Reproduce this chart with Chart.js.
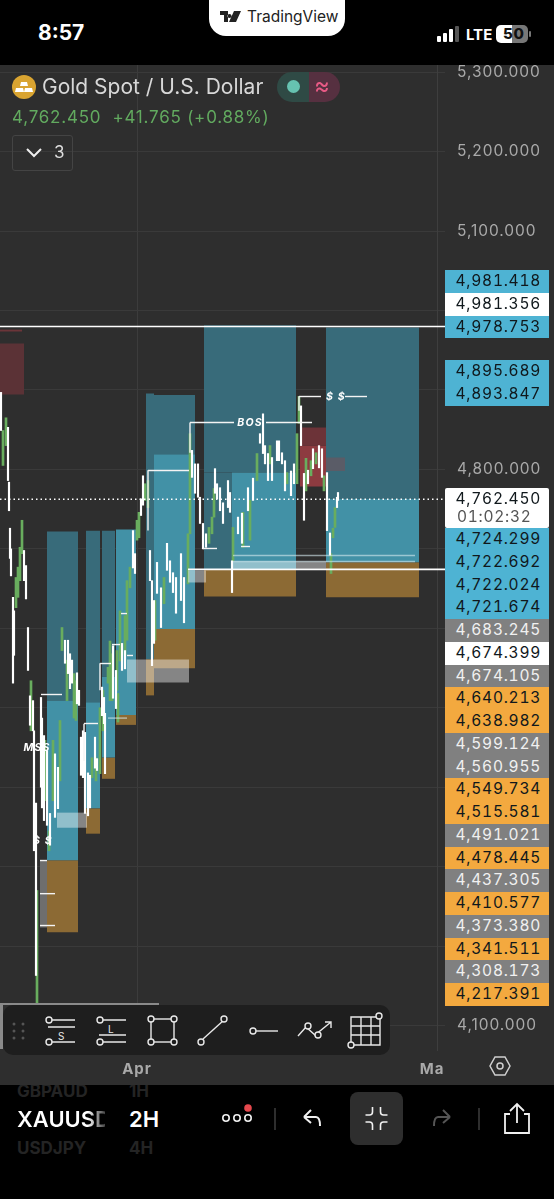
<!DOCTYPE html>
<html>
<head>
<meta charset="utf-8">
<script src="https://cdn.jsdelivr.net/npm/chart.js@4"></script>
<style>
html,body{margin:0;padding:0;background:#000;width:554px;height:1199px;overflow:hidden;font-family:Inter,"Noto Sans",sans-serif}
div,span{position:absolute;white-space:nowrap}
#pane{left:0;top:65px;width:554px;height:1020px;background:#2e2e2e}
#pane canvas{position:absolute;left:0;top:0}
.tag{left:445px;width:104px;height:22.75px;line-height:22.75px;font-size:15.5px;letter-spacing:.75px;font-variant-numeric:tabular-nums;color:#10181c}
.tag span{right:8px;top:0}
.blue{background:#4eb3d3}.white{background:#fff}.gray{background:#808080;color:#f0f0f0}.orange{background:#f3a93f}
svg{position:absolute;overflow:visible}
</style>
</head>
<body>
<!-- symbols scrolling behind the pane -->
<div style="left:17px;top:1081px;font-size:17px;font-weight:700;color:#242424;width:88px;overflow:hidden">GBPAUD</div>
<div style="left:129px;top:1081px;font-size:17px;font-weight:700;color:#242424">1H</div>

<div id="pane"><canvas id="chart" width="554" height="1020"></canvas></div>

<!-- status bar -->
<div style="left:38px;top:20px;font-size:21px;font-weight:700;color:#fff">8:57</div>
<div style="left:209px;top:0;width:136px;height:36px;background:#fff;border-radius:0 0 17px 17px"></div>
<svg style="left:220px;top:10px" width="22" height="13"><path d="M0 1h8v11H4V5H0zM9 12l5-11h7l-5 11z M9.5 4a2 2 0 1 0 .01 0" fill="#222"/></svg>
<div style="left:247px;top:7px;font-size:15.5px;color:#222">TradingView</div>
<svg style="left:437px;top:26px" width="24" height="16"><rect x="0" y="10" width="4" height="6" rx="1" fill="#fff"/><rect x="6" y="7" width="4" height="9" rx="1" fill="#fff"/><rect x="12" y="3" width="4" height="13" rx="1" fill="#fff"/><rect x="18" y="0" width="4" height="16" rx="1" fill="#555"/></svg>
<div style="left:466px;top:25px;font-size:15px;font-weight:700;color:#fff">LTE</div>
<div style="left:496px;top:25px;width:32px;height:18px;border-radius:5px;background:linear-gradient(90deg,#fff 50%,#777 50%)"></div>
<div style="left:529px;top:31px;width:2px;height:6px;border-radius:1px;background:#777"></div>
<div style="left:503px;top:25px;font-size:15px;font-weight:800;letter-spacing:.6px;color:#111;line-height:18px">50</div>

<!-- legend -->
<svg style="left:12px;top:75px" width="24" height="24"><circle cx="12" cy="12" r="12" fill="#d9a431"/><path d="M9 7h6l1 4H8zM4 13h7l1 4H3zM13 13h7l1 4h-9z" fill="#fff"/></svg>
<div style="left:42px;top:74px;font-size:21px;color:#d8d8d8">Gold Spot / U.S. Dollar</div>
<div style="left:277px;top:72px;width:32px;height:30px;background:#2f4a45;border-radius:15px 0 0 15px"></div>
<div style="left:309px;top:72px;width:31px;height:30px;background:#563040;border-radius:0 15px 15px 0"></div>
<div style="left:287px;top:80px;width:13px;height:13px;border-radius:7px;background:#66c3b1"></div>
<div style="left:314px;top:71px;font-size:24px;color:#e85a85">≈</div>
<div style="left:12px;top:107px;font-size:17px;letter-spacing:.78px;color:#62aa5f">4,762.450&nbsp; +41.765 (+0.88%)</div>
<div style="left:12px;top:135px;width:59px;height:34px;border:1px solid #444;border-radius:3px"></div>
<svg style="left:26px;top:148px" width="16" height="10"><path d="M1 1l7 7 7-7" fill="none" stroke="#eee" stroke-width="2"/></svg>
<div style="left:54px;top:142px;font-size:17px;color:#ddd">3</div>

<div id="tags"></div>

<!-- drawing toolbar -->
<div style="left:0;top:1003px;width:159px;height:2px;background:#8a8a8a"></div>
<div style="left:0;top:1003px;width:3px;height:46px;background:#8a8a8a"></div>
<div style="left:3px;top:1005px;width:387px;height:50px;background:#1e1e1e;border-radius:10px"></div>
<svg style="left:0;top:1000px" width="400" height="60" fill="none" stroke="#e8e8e8" stroke-width="1.4">
  <g fill="#555" stroke="none"><circle cx="14" cy="24" r="1.5"/><circle cx="23" cy="24" r="1.5"/><circle cx="14" cy="31" r="1.5"/><circle cx="23" cy="31" r="1.5"/><circle cx="14" cy="38" r="1.5"/><circle cx="23" cy="38" r="1.5"/></g>
  <circle cx="49" cy="20" r="3"/><path d="M52 20h23M48 27h27M52 42h23"/><circle cx="49" cy="42" r="3"/>
  <circle cx="100" cy="20" r="3"/><path d="M103 20h23M99 35h27M103 42h23"/><circle cx="100" cy="42" r="3"/>
  <rect x="151" y="19" width="23" height="23"/><g fill="#1e1e1e"><circle cx="151" cy="19" r="3"/><circle cx="174" cy="19" r="3"/><circle cx="151" cy="42" r="3"/><circle cx="174" cy="42" r="3"/></g>
  <path d="M203 39l21-19"/><g fill="#1e1e1e"><circle cx="201" cy="42" r="3"/><circle cx="224" cy="19" r="3"/></g>
  <circle cx="253" cy="31" r="3"/><path d="M256 31h22"/>
  <path d="M298 36l8-9 9 8 16-13M325 22h6v6"/><g fill="#1e1e1e"><circle cx="308" cy="26" r="3"/><circle cx="318" cy="35" r="3"/></g>
  <path d="M351 17h29v28h-29zM351 26h29M351 35h29M361 17v28M371 17v28"/><g fill="#1e1e1e"><circle cx="379" cy="16" r="3"/><circle cx="351" cy="45" r="3"/></g>
</svg>
<div style="left:58px;top:1030px;font-size:10px;color:#e8e8e8">S</div>
<div style="left:108px;top:1023px;font-size:10px;color:#e8e8e8">L</div>
<svg style="left:489px;top:1056px" width="22" height="20" fill="none" stroke="#cfcfcf" stroke-width="1.5"><path d="M6 1h10l5 9-5 9H6L1 10z"/><circle cx="11" cy="10" r="3"/></svg>

<!-- bottom bar -->
<div style="left:17px;top:1106px;font-size:22px;font-weight:600;width:88px;overflow:hidden;background:linear-gradient(90deg,#fff 80%,#444 100%);-webkit-background-clip:text;color:transparent">XAUUSD</div>
<div style="left:129px;top:1106px;font-size:22px;font-weight:600;color:#fff">2H</div>
<div style="left:17px;top:1138px;font-size:17px;font-weight:700;color:#242424;width:88px;overflow:hidden">USDJPY</div>
<div style="left:129px;top:1138px;font-size:17px;font-weight:700;color:#242424">4H</div>
<div style="left:350px;top:1092px;width:53px;height:53px;background:#2e2e2e;border-radius:8px"></div>
<svg style="left:0;top:1090px" width="554" height="60" fill="none" stroke="#f0f0f0" stroke-width="1.6">
  <circle cx="226" cy="28" r="3.2"/><circle cx="237" cy="28" r="3.2"/><circle cx="248" cy="28" r="3.2"/>
  <circle cx="248" cy="18" r="3.8" fill="#e5484d" stroke="none"/>
  <path d="M275 18v22M479 18v22" stroke="#3a3a3a"/>
  <path d="M304 27l7-7M304 27l7 6M304 27h12c3 0 4 3 4 9" stroke-width="2"/>
  <path d="M372.5 17v5q0 3-3 3h-4M380.5 17v5q0 3 3 3h4M372.5 40v-5q0-3-3-3h-4M380.5 40v-5q0-3 3-3h4"/>
  <path d="M450 27l-7-7M450 27l-7 6M450 27h-12c-3 0-4 3-4 9" stroke="#555" stroke-width="2"/>
  <path d="M517 33V15M510 21l7-7 7 7M510 24h-5v19h24V24h-5" stroke-width="1.8"/>
</svg>

<script>
// price axis
const gridPrices = [5300,5200,5100,5000,4900,4800,4700,4600,4500,4400,4300,4200,4100];
const shownPrices = [5300,5200,5100,4800,4100];
// days counted from Apr 1
const monthDays = [0,29.5];
const monthLabels = ["Apr","Ma"];

// candles, white ones and green ones
const whiteDays = [-13.6,-12.9,-12.8,-12.7,-12.6,-12.4,-12.3,-11.3,-11.1,-10.9,-10.7,-10.4,-10.3,-10.1,-9.6,-9.5,-9.3,-9,-8.7,-8.2,-7.9,-7.2,-6.9,-6.7,-6.5,-6,-5.8,-5.6,-5.4,-5.2,-4.9,-4.7,-4.2,-4,-3.5,-3.3,-3.2,-2.4,-2.1,-1.5,-1.2,-0.4,-0.2,0.4,0.6,1.3,1.5,1.7,2,2.4,3,3.3,3.6,3.9,4.4,4.7,5.5,5.8,6.1,6.3,6.6,6.9,7.8,8,8.3,8.6,9.1,9.3,9.5,10.1,10.5,11.1,11.6,12.3,12.6,12.8,13.1,13.5,14,14.2,14.5,14.8,15.4,15.7,16.4,16.7,17.1,17.6,18.2,18.5,19,19.3,20,20.1];
const whiteHigh = [4897,4853,4784,4726,4700,4639,4622,4698,4679,4601,4515,4509,4471,4380,4513,4487,4465,4446,4367,4442,4425,4585,4585,4568,4560,4544,4522,4463,4471,4469,4418,4415,4463,4436,4526,4513,4493,4578,4547,4581,4572,4723,4694,4763,4792,4698,4660,4635,4683,4651,4707,4685,4670,4664,4694,4664,4824,4807,4807,4765,4732,4719,4801,4782,4777,4758,4786,4771,4685,4740,4745,4777,4789,4845,4870,4830,4820,4815,4836,4836,4821,4811,4798,4807,4880,4795,4799,4826,4830,4826,4796,4720,4765,4771];
const whiteLow = [4849,4786,4748,4688,4666,4531,4566,4660,4637,4547,4478,4471,4320,4163,4400,4374,4358,4352,4327,4362,4373,4556,4543,4524,4531,4505,4503,4415,4412,4367,4364,4374,4424,4421,4490,4480,4417,4512,4499,4547,4549,4676,4669,4742,4755,4660,4553,4581,4644,4601,4673,4658,4645,4619,4635,4607,4790,4770,4765,4732,4700,4702,4770,4763,4748,4732,4752,4746,4645,4719,4707,4748,4761,4833,4820,4807,4786,4786,4811,4811,4807,4773,4767,4782,4830,4736,4782,4801,4802,4790,4723,4692,4752,4761];
const greenDays = [-13.4,-13.1,-12.1,-11.9,-11.7,-11.5,-10.6,-10,-9.2,-8.8,-8.4,-7.7,-7.5,-7,-6.3,-6.1,-4.5,-4.1,-3.7,-3.4,-2.9,-2.7,-2.5,-2,-1.9,-1.7,-1.2,-1,-0.7,0,0.2,0.8,1.1,1.8,2.7,5.1,5.3,7.2,7.5,7.7,9.6,10.6,11.3,12,13.3,15,16,16.2,16.9,17.4,17.9,18.7,19.4,19.6,19.8];
const greenHigh = [4849,4865,4664,4677,4702,4736,4534,4270,4459,4345,4459,4484,4601,4560,4543,4534,4437,4437,4500,4522,4551,4584,4568,4572,4518,4622,4616,4660,4677,4736,4746,4782,4786,4635,4664,4719,4845,4727,4740,4776,4727,4746,4761,4820,4830,4796,4845,4892,4814,4811,4821,4792,4694,4726,4752];
const greenLow = [4805,4830,4626,4639,4660,4694,4471,4125,4383,4320,4383,4408,4572,4509,4487,4484,4412,4408,4417,4471,4531,4509,4509,4522,4482,4559,4566,4585,4651,4711,4714,4761,4752,4585,4631,4656,4719,4707,4719,4740,4685,4702,4711,4786,4807,4782,4782,4858,4773,4792,4807,4773,4669,4714,4727];

// position zones: [from day, to day, upper price, lower price]
const targetZones = [[-9,-5.9,4722.024,4509],[-5.1,-3.7,4722.692,4507],[-3.5,-2.2,4722.692,4539],[0.9,1.7,4895.689,4560.955],[1.7,5.8,4893.847,4819],[6.7,15.9,4981.418,4796],[6.7,9.5,4796,4674.105],[18.9,28.2,4978.753,4763]];
const entryZones = [[-9,-5.9,4509,4308.173],[-5.1,-3.7,4507,4373.38],[-3.5,-2.2,4539,4437.305],[-2.1,-0.1,4724.299,4491.021],[1.7,5.8,4819,4599.124],[9.5,15.9,4796,4674.105],[18.9,28.2,4763,4683.245]];
const stopZones = [[-9,-5.9,4308.173,4217.391],[-5.1,-3.7,4373.38,4341.511],[-3.5,-2.2,4437.305,4410.577],[-2.1,-0.1,4491.021,4478.445],[0.9,1.7,4560.955,4515.581],[1.7,5.8,4599.124,4549.734],[6.7,15.9,4674.105,4640.213],[18.9,28.2,4683.245,4638.982]];
const redZones = [[-13.7,-11.3,4958.5,4894.3],[-13.7,-11.5,4976,4973.6],[16.3,18.9,4852.8,4830],[16.3,18.9,4830,4778.5],[18.9,20.8,4815,4798]];
const paleZones = [[-1,5.2,4560.7,4531.8],[5.1,6.9,4672.8,4657.7],[-8,-5,4368,4349],[9.6,18.9,4684,4675]];
const grayZones = [[-9.7,-9,4307.7,4223.4]];

// structure lines: [from day, to day, price]
const levelLines = [[5.3,9.7,4859.1],[12.9,17.5,4859.1],[16.2,18.4,4891.8],[20.8,23,4891.8],[1.1,5.2,4798.7],[6.6,8,4700.5],[10.4,11.3,4703],[-1.6,-1,4618.6],[-2.5,-1.7,4579.6],[-1,-0.4,4565.8],[-3.7,-2.6,4555.7],[-5.3,-3.9,4480.2],[-9.6,-7.5,4516.7],[-9.7,-9,4307.7],[-9.7,-8.2,4266],[-9.7,-8.2,4225.9]];
// vertical ticks of those lines: [day, upper price, lower price]
const levelStems = [[5.3,4859,4821],[1.1,4799,4723],[16.2,4892,4874],[-3.7,4556,4522],[-5.3,4480,4433]];
const drawnLevels = [[-13.7,30.8,4980],[5.1,30.8,4674.2]];
const thinLevels = [[9.6,27.8,4691.7],[9.6,27.8,4684],[-2.9,-1,4487]];
const lastPrice = 4762.45;

const noteTexts = ["BOS","$ $","MSS","$ $"];
const noteDays = [11.3,19.9,-10,-9.4];
const notePrices = [4859.1,4891.8,4450,4333];

// price tags on the right, stacked the way the app stacks them
const tagLabels = [["4,981.418","4,981.356","4,978.753"],["4,895.689","4,893.847"],["4,724.299","4,722.692","4,722.024","4,721.674","4,683.245","4,674.399","4,674.105","4,640.213","4,638.982","4,599.124","4,560.955","4,549.734","4,515.581","4,491.021","4,478.445","4,437.305","4,410.577","4,373.380","4,341.511","4,308.173","4,217.391"]];
const tagKinds = [["blue","white","blue"],["blue","blue"],["blue","blue","blue","blue","gray","white","gray","orange","orange","gray","gray","orange","orange","gray","orange","gray","orange","gray","orange","gray","orange"]];
const tagTops = [270,360,528];
const lastLabel = "4,762.450";
const countdown = "01:02:32";

// -------- TAGS --------
const tagsDiv = document.getElementById("tags");
tagLabels.forEach((group,g)=>{
  group.forEach((t,i)=>{
    const d = document.createElement("div");
    d.className = "tag " + tagKinds[g][i];
    d.style.top = (tagTops[g] + i*22.75) + "px";
    d.innerHTML = "<span>"+t+"</span>";
    tagsDiv.appendChild(d);
  });
});
const last = document.createElement("div");
last.className = "tag white";
last.style.cssText = "top:488px;height:40px;border-radius:2px";
last.innerHTML = `<span style="top:0;line-height:22px">${lastLabel}</span><span style="top:19px;line-height:20px;left:12px;right:auto;color:#555">${countdown}</span>`;
tagsDiv.appendChild(last);

// -------- CHART --------
function zoneSets(zones,color,order){
  return zones.map(z=>({
    type:"line",
    data:[{x:z[0],y:z[2]},{x:z[1],y:z[2]}],
    fill:{value:z[3]},
    backgroundColor:Array.isArray(color) ? color.shift() : color,
    borderWidth:0,pointRadius:0,order
  }));
}
function lineSet(points,color,width,order,dash){
  return {
    type:"line",data:points,borderColor:color,borderWidth:width,
    borderDash:dash||[],pointRadius:0,fill:false,clip:false,order
  };
}
function candleSet(days,high,low,color,thickness,order){
  return {
    type:"bar",
    data:days.map((d,i)=>({x:d,y:[low[i],high[i]]})),
    backgroundColor:color,barThickness:thickness,borderWidth:0,grouped:false,order
  };
}

// axis text is spaced wider than canvas text normally is
const axisSpacing = {
  id:"axisSpacing",
  beforeDraw(c){ c.ctx.letterSpacing = "0.95px"; }
};

const noteLabels = {
  id:"noteLabels",
  afterDatasetsDraw(c){
    const {ctx,scales} = c;
    ctx.save();
    ctx.font = "italic 700 10.5px Inter";
    ctx.letterSpacing = "1.2px";
    ctx.fillStyle = "#fff";
    ctx.textAlign = "center";
    ctx.textBaseline = "middle";
    noteTexts.forEach((t,i)=>{
      ctx.fillText(t,scales.x.getPixelForValue(noteDays[i]),scales.y.getPixelForValue(notePrices[i]));
    });
    ctx.restore();
  }
};

new Chart(document.getElementById("chart"),{
  type:"line",
  data:{datasets:[
    ...zoneSets(targetZones,"#386b7a",10),
    ...zoneSets(entryZones,"#4291a6",9),
    ...zoneSets(stopZones,"#8c6a34",9),
    ...zoneSets(redZones,["#5b3236","#6b3539","#6c3338","#8d3b40","rgba(170,60,60,.3)"],8),
    ...zoneSets(grayZones,"#6e6e6e",8),
    candleSet(greenDays,greenHigh,greenLow,"#69ad5e",2,6),
    candleSet(whiteDays,whiteHigh,whiteLow,"#ffffff",1.5,5),
    ...zoneSets(paleZones,"rgba(255,255,255,.42)",4),
    ...thinLevels.map(l=>lineSet([{x:l[0],y:l[2]},{x:l[1],y:l[2]}],"rgba(215,235,240,.6)",1.5,3)),
    ...levelLines.map(l=>lineSet([{x:l[0],y:l[2]},{x:l[1],y:l[2]}],"#f4f4f4",1.4,2)),
    ...levelStems.map(l=>lineSet([{x:l[0],y:l[1]},{x:l[0],y:l[2]}],"#f4f4f4",1.4,2)),
    ...drawnLevels.map(l=>lineSet([{x:l[0],y:l[2]},{x:l[1],y:l[2]}],"#ffffff",1.6,1)),
    lineSet([{x:-13.7,y:lastPrice},{x:30.8,y:lastPrice}],"#ffffff",1.5,1,[1.5,3])
  ]},
  options:{
    responsive:false,
    animation:false,
    events:[],
    layout:{padding:0},
    plugins:{legend:{display:false},tooltip:{enabled:false}},
    scales:{
      x:{
        type:"linear",min:-13.7,max:30,offset:false,
        afterBuildTicks(s){ s.ticks = monthDays.map(v=>({value:v})); },
        afterFit(s){ s.height = 35; s.paddingLeft = 0; s.paddingRight = 0; },
        grid:{offset:false,drawTicks:false,color:c=>c.index===0 ? "#3c3c3c" : "transparent"},
        border:{display:false},
        ticks:{
          autoSkip:false,maxRotation:0,padding:10,color:"#a9a9a9",
          font:{family:"Inter",size:15,weight:"700"},
          callback:(v,i)=>monthLabels[i]
        }
      },
      y:{
        position:"right",min:4069.2,max:5309.1,
        afterBuildTicks(s){ s.ticks = gridPrices.map(v=>({value:v})); },
        afterFit(s){ s.width = 117; s.paddingTop = 0; s.paddingBottom = 0; },
        grid:{color:"#3a3a3a",tickLength:8},
        border:{color:"#3e3e3e"},
        ticks:{
          autoSkip:false,padding:12,color:"#a9a9a9",
          font:{family:"Inter",size:15.5},
          callback:v=>shownPrices.includes(v) ? v.toLocaleString("en-US",{minimumFractionDigits:3}) : ""
        }
      }
    }
  },
  plugins:[axisSpacing,noteLabels]
});
</script>
</body>
</html>
